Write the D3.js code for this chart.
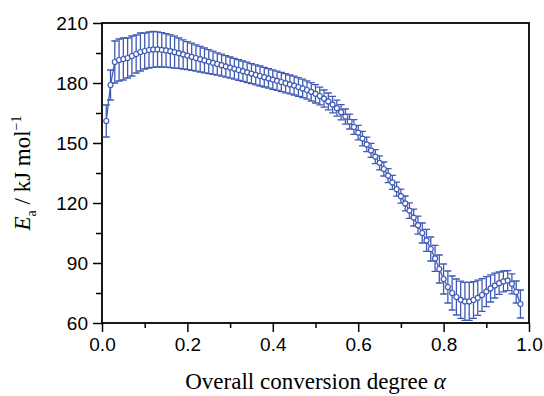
<!DOCTYPE html>
<html>
<head>
<meta charset="utf-8">
<script src="https://cdn.jsdelivr.net/npm/d3@7"></script>
<style>
  body { margin: 0; background: #fff; }
  svg text { fill: #000; }
</style>
</head>
<body>
<div id="viz"></div>
<script>
const width = 544;
const height = 396;
const margin = { top: 23, right: 15, bottom: 73, left: 102 };
const blue = '#3f5ab5';

// conversion degree
const alpha = [
  0.01, 0.02, 0.03, 0.04, 0.05, 0.06, 0.07, 0.08, 0.09, 0.10,
  0.11, 0.12, 0.13, 0.14, 0.15, 0.16, 0.17, 0.18, 0.19, 0.20,
  0.21, 0.22, 0.23, 0.24, 0.25, 0.26, 0.27, 0.28, 0.29, 0.30,
  0.31, 0.32, 0.33, 0.34, 0.35, 0.36, 0.37, 0.38, 0.39, 0.40,
  0.41, 0.42, 0.43, 0.44, 0.45, 0.46, 0.47, 0.48, 0.49, 0.50,
  0.51, 0.52, 0.53, 0.54, 0.55, 0.56, 0.57, 0.58, 0.59, 0.60,
  0.61, 0.62, 0.63, 0.64, 0.65, 0.66, 0.67, 0.68, 0.69, 0.70,
  0.71, 0.72, 0.73, 0.74, 0.75, 0.76, 0.77, 0.78, 0.79, 0.80,
  0.81, 0.82, 0.83, 0.84, 0.85, 0.86, 0.87, 0.88, 0.89, 0.90,
  0.91, 0.92, 0.93, 0.94, 0.95, 0.96, 0.97, 0.98
];
// activation energy, kJ/mol
const ea = [
  161.0, 179.0, 190.5, 191.5, 192.0, 192.5, 193.5, 194.5, 195.5, 196.0,
  196.5, 196.8, 196.8, 196.6, 196.3, 195.9, 195.4, 194.9, 194.3, 193.7,
  193.1, 192.5, 191.9, 191.3, 190.7, 190.1, 189.5, 188.9, 188.3, 187.7,
  187.1, 186.5, 185.9, 185.3, 184.7, 184.1, 183.5, 182.9, 182.3, 181.7,
  181.1, 180.5, 179.9, 179.3, 178.7, 178.0, 177.3, 176.5, 175.6, 174.6,
  173.5, 172.2, 170.8, 169.2, 167.4, 165.4, 163.2, 160.7, 158.0, 155.2,
  152.2, 149.3, 146.3, 143.2, 140.1, 137.0, 133.7, 130.3, 126.9, 123.4,
  119.8, 116.2, 112.7, 108.9, 105.0, 101.3, 97.0, 92.3, 87.0, 82.0,
  78.0, 75.0, 73.0, 71.6, 70.8, 70.8, 71.5, 72.6, 74.0, 75.7,
  77.3, 78.7, 79.9, 80.8, 81.2, 79.6, 75.5, 69.5
];
// standard deviation, kJ/mol
const eaErr = [
  8.0, 7.5, 10.5, 10.5, 10.5, 10.0, 10.0, 9.5, 9.5, 9.0,
  9.0, 9.0, 8.8, 8.6, 8.4, 8.2, 8.0, 7.6, 7.3, 7.0,
  6.8, 6.6, 6.4, 6.2, 6.0, 5.8, 5.6, 5.5, 5.4, 5.3,
  5.2, 5.2, 5.1, 5.1, 5.0, 5.0, 5.0, 4.9, 4.9, 4.9,
  4.8, 4.8, 4.8, 4.7, 4.7, 4.7, 4.6, 4.6, 4.6, 4.6,
  4.4, 4.3, 4.2, 4.1, 4.0, 3.8, 3.8, 3.7, 3.7, 3.6,
  3.6, 3.6, 3.5, 3.5, 3.5, 3.5, 3.5, 3.5, 3.5, 3.5,
  3.7, 3.9, 4.2, 4.5, 5.0, 5.5, 6.0, 6.5, 7.0, 7.5,
  8.0, 8.5, 9.0, 9.3, 9.5, 9.5, 9.2, 8.8, 8.2, 7.5,
  6.8, 6.2, 5.6, 5.2, 5.0, 5.0, 5.5, 7.0
];

const xTicks = [0.0, 0.2, 0.4, 0.6, 0.8, 1.0];
const xMinor = [0.1, 0.3, 0.5, 0.7, 0.9];
const yTicks = [60, 90, 120, 150, 180, 210];
const yMinor = [75, 105, 135, 165, 195];

const data = alpha.map((a, i) => ({ a: a, e: ea[i], s: eaErr[i] }));

const xScale = d3.scaleLinear()
    .domain([0, 1])
    .range([margin.left, width - margin.right]);
const yScale = d3.scaleLinear()
    .domain([60, 210])
    .range([height - margin.bottom, margin.top]);

const svg = d3.select('#viz')
    .append('svg')
        .attr('width', width)
        .attr('height', height)
        .attr('viewBox', [0, 0, width, height]);

// minor ticks first
svg.append('g')
    .attr('transform', `translate(0, ${height - margin.bottom})`)
    .call(d3.axisBottom(xScale).tickValues(xMinor).tickSize(5).tickFormat(''))
    .call(g => g.select('.domain').remove())
    .selectAll('line').attr('stroke-width', 1.5);
svg.append('g')
    .attr('transform', `translate(${margin.left}, 0)`)
    .call(d3.axisLeft(yScale).tickValues(yMinor).tickSize(6).tickFormat(''))
    .call(g => g.select('.domain').remove())
    .selectAll('line').attr('stroke-width', 1.5);

const xAxis = svg.append('g')
    .attr('transform', `translate(0, ${height - margin.bottom})`)
    .call(d3.axisBottom(xScale).tickValues(xTicks).tickSize(9).tickPadding(6)
        .tickFormat(d3.format('.1f')));
xAxis.select('.domain').remove();
xAxis.selectAll('line').attr('stroke-width', 1.5);
xAxis.selectAll('text')
    .attr('font-family', 'Liberation Sans, Arial, sans-serif')
    .attr('font-size', 19);

const yAxis = svg.append('g')
    .attr('transform', `translate(${margin.left}, 0)`)
    .call(d3.axisLeft(yScale).tickValues(yTicks).tickSize(9).tickPadding(5));
yAxis.select('.domain').remove();
yAxis.selectAll('line').attr('stroke-width', 1.5);
yAxis.selectAll('text')
    .attr('font-family', 'Liberation Sans, Arial, sans-serif')
    .attr('font-size', 19);

// frame
svg.append('rect')
    .attr('x', margin.left)
    .attr('y', margin.top)
    .attr('width', width - margin.left - margin.right)
    .attr('height', height - margin.top - margin.bottom)
    .attr('fill', 'none')
    .attr('stroke', '#000')
    .attr('stroke-width', 1.8);

// error bars
const bars = svg.append('g')
    .attr('stroke', blue)
    .attr('stroke-width', 1.3)
    .attr('fill', 'none');
bars.selectAll('path')
    .data(data)
    .join('path')
        .attr('d', d => {
            const x = xScale(d.a);
            const y0 = yScale(d.e - d.s);
            const y1 = yScale(d.e + d.s);
            return `M${x - 3.5},${y1}H${x + 3.5}M${x},${y1}V${y0}M${x - 3.5},${y0}H${x + 3.5}`;
        });

const line = d3.line()
    .x(d => xScale(d.a))
    .y(d => yScale(d.e));

svg.append('path')
    .datum(data)
    .attr('d', line)
    .attr('fill', 'none')
    .attr('stroke', blue)
    .attr('stroke-width', 1.3);

svg.append('g')
    .selectAll('circle')
    .data(data)
    .join('circle')
        .attr('cx', d => xScale(d.a))
        .attr('cy', d => yScale(d.e))
        .attr('r', 2.5)
        .attr('fill', '#fff')
        .attr('stroke', blue)
        .attr('stroke-width', 1.2);

// axis titles
svg.append('text')
    .attr('x', (margin.left + width - margin.right) / 2)
    .attr('y', 389)
    .attr('text-anchor', 'middle')
    .attr('font-family', 'Liberation Serif, Times New Roman, serif')
    .attr('font-size', 23)
    .text('Overall conversion degree ')
    .append('tspan')
        .attr('font-style', 'italic')
        .text('α');

const yTitle = svg.append('text')
    .attr('transform', `translate(30, ${(margin.top + height - margin.bottom) / 2}) rotate(-90)`)
    .attr('text-anchor', 'middle')
    .attr('font-family', 'Liberation Serif, Times New Roman, serif')
    .attr('font-size', 23);
yTitle.append('tspan').attr('font-style', 'italic').text('E');
yTitle.append('tspan').attr('font-size', 14).attr('dy', 6).text('a');
yTitle.append('tspan').attr('dy', -6).text(' / kJ mol');
yTitle.append('tspan').attr('font-size', 14).attr('dy', -9).text('−1');
</script>
</body>
</html>
